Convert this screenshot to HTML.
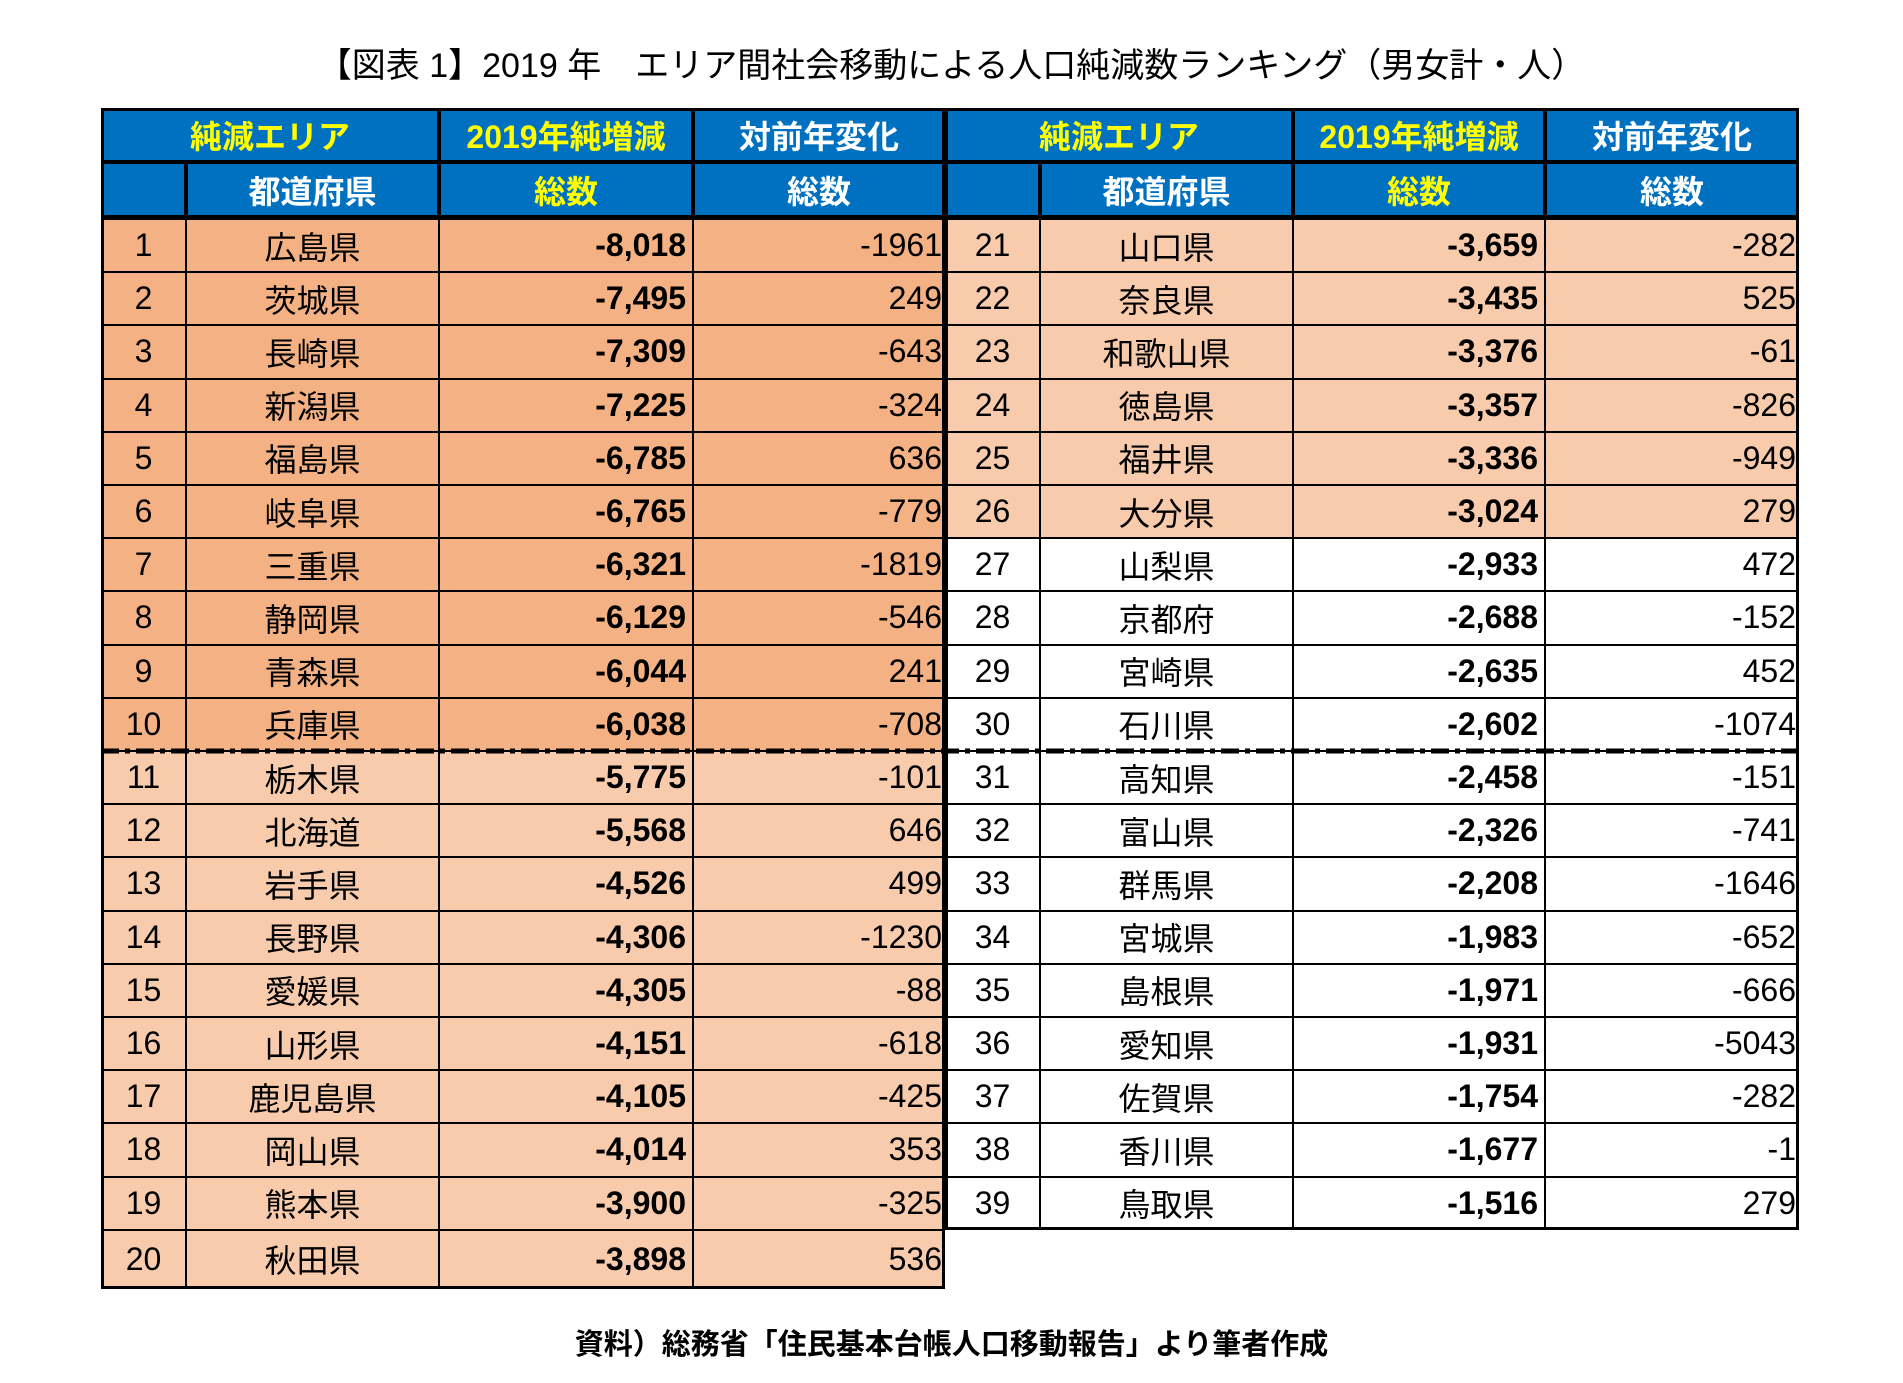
<!DOCTYPE html>
<html><head><meta charset="utf-8">
<style>
html,body{margin:0;padding:0;background:#fff;}
body{width:1903px;height:1383px;position:relative;overflow:hidden;font-family:"Liberation Sans","Noto Sans CJK JP",sans-serif;}
#title{position:absolute;left:0;width:1903px;top:38px;text-align:center;font-size:34px;color:#000;}
#foot{position:absolute;left:0;width:1903px;top:1321px;text-align:center;font-size:29px;font-weight:bold;color:#000;}
.c{position:absolute;box-sizing:border-box;border:1.5px solid #000;display:flex;align-items:center;font-size:32px;white-space:nowrap;overflow:hidden;}
.h{background:#0070c0;font-weight:bold;justify-content:center;border:2px solid #000;}
.y{color:#ffff00}.w{color:#fff}
</style></head><body>
<div id="title">【図表 1】2019 年　エリア間社会移動による人口純減数ランキング（男女計・人）</div>
<div id="tbl"></div>
<div id="foot">資料）総務省「住民基本台帳人口移動報告」より筆者作成</div>
<script>
const prefs=["広島県","茨城県","長崎県","新潟県","福島県","岐阜県","三重県","静岡県","青森県","兵庫県","栃木県","北海道","岩手県","長野県","愛媛県","山形県","鹿児島県","岡山県","熊本県","秋田県","山口県","奈良県","和歌山県","徳島県","福井県","大分県","山梨県","京都府","宮崎県","石川県","高知県","富山県","群馬県","宮城県","島根県","愛知県","佐賀県","香川県","鳥取県"];
const netValues=[-8018,-7495,-7309,-7225,-6785,-6765,-6321,-6129,-6044,-6038,-5775,-5568,-4526,-4306,-4305,-4151,-4105,-4014,-3900,-3898,-3659,-3435,-3376,-3357,-3336,-3024,-2933,-2688,-2635,-2602,-2458,-2326,-2208,-1983,-1971,-1931,-1754,-1677,-1516];
const changeValues=[-1961,249,-643,-324,636,-779,-1819,-546,241,-708,-101,646,499,-1230,-88,-618,-425,353,-325,536,-282,525,-61,-826,-949,279,472,-152,452,-1074,-151,-741,-1646,-652,-666,-5043,-282,-1,279];
const tbl=document.getElementById('tbl');
function cell(x,y,w,h,txt,cls,name,extra){
  const d=document.createElement('div');
  d.className='c '+(cls||'');
  d.style.left=x+'px';d.style.top=y+'px';d.style.width=w+'px';d.style.height=h+'px';
  if(extra)Object.assign(d.style,extra);
  d.textContent=txt;
  
  
  tbl.appendChild(d);return d;
}
const colsL=[101,186,439,693,945],colsR=[945,1040,1293,1545,1799];
const rowTop=219,rowH=53.2;
[colsL,colsR].forEach((c)=>{
  cell(c[0],108,c[2]-c[0],54,'純減エリア','h y','header-area');
  cell(c[2],108,c[3]-c[2],54,'2019年純増減','h y','header-2019-net');
  cell(c[3],108,c[4]-c[3],54,'対前年変化','h w','header-yoy-change');
  cell(c[0],162,c[1]-c[0],56,'','h','header-rank');
  cell(c[1],162,c[2]-c[1],56,'都道府県','h w','header-prefecture');
  cell(c[2],162,c[3]-c[2],56,'総数','h y','header-net-total');
  cell(c[3],162,c[4]-c[3],56,'総数','h w','header-change-total');
});
prefs.forEach((p,i)=>{
  const right=i>=20, c=right?colsR:colsL, r=right?i-20:i;
  const y=rowTop+r*rowH;
  const h=(!right&&r===19)?59:rowH;
  const bg=i<10?'#f4b183':(i<26?'#f8cbad':'#ffffff');
  const st={background:bg};
  cell(c[0],y,c[1]-c[0],h,String(i+1),'','rank-cell',Object.assign({justifyContent:'center'},st));
  cell(c[1],y,c[2]-c[1],h,p,'','prefecture-cell',Object.assign({justifyContent:'center'},st));
  cell(c[2],y,c[3]-c[2],h,netValues[i].toLocaleString('en-US'),'','net-value-cell',Object.assign({justifyContent:'flex-end',fontWeight:'bold',paddingRight:'6px'},st));
  cell(c[3],y,c[4]-c[3],h,String(changeValues[i]),'','change-value-cell',Object.assign({justifyContent:'flex-end',paddingRight:'2px'},st));
});
[[101,108,844,rowTop+19*rowH+59-108],[945,108,854,rowTop+19*rowH-108]].forEach(b=>{
  const d=document.createElement('div');
  d.style.cssText=`position:absolute;left:${b[0]}px;top:${b[1]}px;width:${b[2]}px;height:${b[3]}px;border:3.5px solid #000;box-sizing:border-box;pointer-events:none`;
  
  
  tbl.appendChild(d);
});
const hl=document.createElement('div');
hl.style.cssText='position:absolute;left:101px;top:215px;width:1698px;height:5px;background:#000';


tbl.appendChild(hl);
const ns='http://www.w3.org/2000/svg';
const svg=document.createElementNS(ns,'svg');
svg.setAttribute('width','1903');svg.setAttribute('height','1383');
svg.style.cssText='position:absolute;left:0;top:0;pointer-events:none';


const ln=document.createElementNS(ns,'line');
const yy=rowTop+10*rowH;
ln.setAttribute('x1','101');ln.setAttribute('x2','1799');ln.setAttribute('y1',yy);ln.setAttribute('y2',yy);
ln.setAttribute('stroke','#000');ln.setAttribute('stroke-width','5');ln.setAttribute('stroke-dasharray','18 6 5 6');


svg.appendChild(ln);
tbl.appendChild(svg);
</script>
</body></html>
